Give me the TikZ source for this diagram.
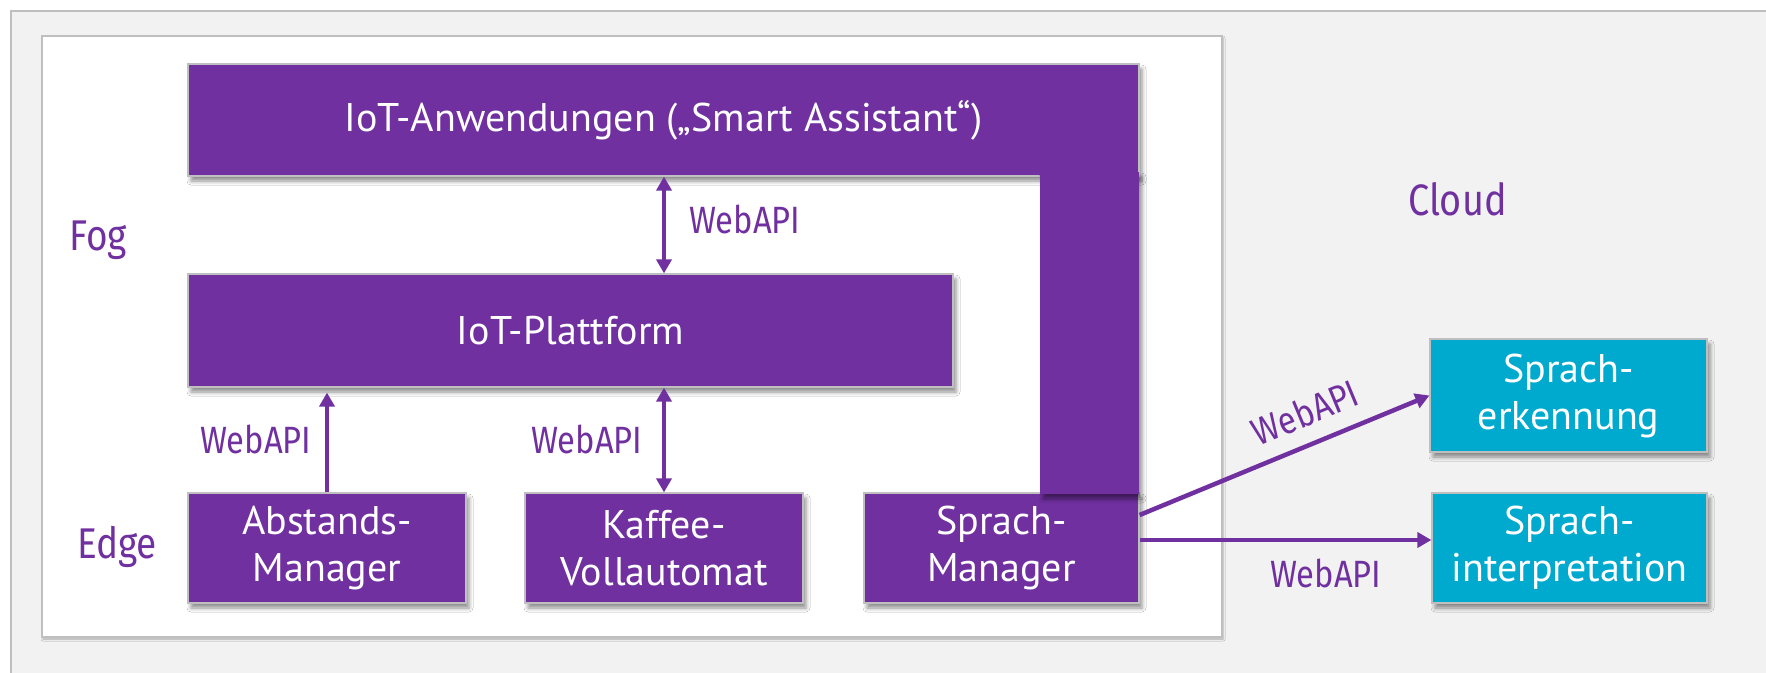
\documentclass[tikz,border=0pt]{standalone}
\usepackage{fontspec}
\setmainfont{PT Sans}
\newfontfamily\labfont[FakeStretch=0.86]{Fira Sans}
\usetikzlibrary{shadows.blur,arrows.meta,calc}
\definecolor{vio}{HTML}{7030A0}
\definecolor{cyanbox}{HTML}{00AACE}
\definecolor{bgray}{HTML}{F2F2F2}
\definecolor{edgegray}{HTML}{BFBFBF}
\begin{document}
\begin{tikzpicture}[x=1pt,y=-1pt,
  shad/.style={blur shadow={shadow xshift=3pt, shadow yshift=-5pt, shadow blur radius=4pt, shadow opacity=45}},
  box/.style={draw=edgegray, line width=1.2pt, fill=vio, text=white, inner sep=0pt, align=center, font=\fontsize{40}{47}\selectfont, shad},
  cloudbox/.style={box, fill=cyanbox},
  lab/.style={text=vio, font=\labfont\fontsize{38}{40}\selectfont, inner sep=0pt, anchor=base west},
  layer/.style={text=vio, font=\labfont\fontsize{43}{46}\selectfont, inner sep=0pt, anchor=base west},
  conn/.style={draw=vio, line width=4.5pt, -{Triangle[length=14pt,width=15pt]}},
  dconn/.style={draw=vio, line width=4.5pt, {Triangle[length=14pt,width=15pt]}-{Triangle[length=14pt,width=15pt]}},
]
\useasboundingbox (0,0) rectangle (1766,672);
\fill[white] (0,0) rectangle (1766,672);
\draw[draw=edgegray, fill=bgray, line width=1.5pt] (11,11) rectangle (1800,700);
\draw[draw=edgegray, fill=white, line width=1.5pt, blur shadow={shadow xshift=1pt, shadow yshift=-2pt, shadow blur radius=2pt, shadow opacity=30}] (42,36) rectangle (1222,637);

\node[box, minimum width=765pt, minimum height=113pt] (plat) at (570.5,330.5) {IoT-Plattform};
\node[box, minimum width=278pt, minimum height=110pt] (abst) at (327,548) {Abstands-\\Manager};
\node[box, minimum width=278pt, minimum height=110pt] (kaff) at (664,548) {Kaffee-\\Vollautomat};
\node[box, minimum width=275pt, minimum height=110pt] (sm) at (1001.5,548) {Sprach-\\Manager};
\node[box, minimum width=951pt, minimum height=112pt] (anw) at (663.5,120) {IoT-Anwendungen („Smart Assistant“)};
\node[box, draw=none, minimum width=99pt, minimum height=322pt] (anwcol) at (1089.5,333) {};
\node[cloudbox, minimum width=277pt, minimum height=113pt] (erk) at (1568.5,395.5) {Sprach-\\erkennung};
\node[cloudbox, minimum width=275pt, minimum height=110pt] (intp) at (1569.5,548) {Sprach-\\interpretation};

\draw[dconn] (kaff.north |- anw.south) -- (kaff.north |- plat.north);
\draw[conn, shorten >=5pt] (abst.north) -- (abst.north |- plat.south);
\draw[dconn] (kaff.north) -- (kaff.north |- plat.south);
\draw[conn] ([yshift=33pt]sm.east) -- (erk.west);
\draw[conn] ([yshift=8pt]sm.east) -- ([yshift=8pt]intp.west);

\node[lab] (w1) at (689,233) {WebAPI};
\node[lab] (w2) at (200,453) {WebAPI};
\node[lab] (w3) at (531,453) {WebAPI};
\node[lab, anchor=center, rotate=22.5] (w4) at (1305,412) {WebAPI};
\node[lab] (w5) at (1270,587) {WebAPI};
\node[layer] (fog) at (69,250) {Fog};
\node[layer] (edge) at (77,558) {Edge};
\node[layer, font=\labfont\fontsize{44}{48}\selectfont] (cloud) at (1408,215) {Cloud};
\end{tikzpicture}
\end{document}
